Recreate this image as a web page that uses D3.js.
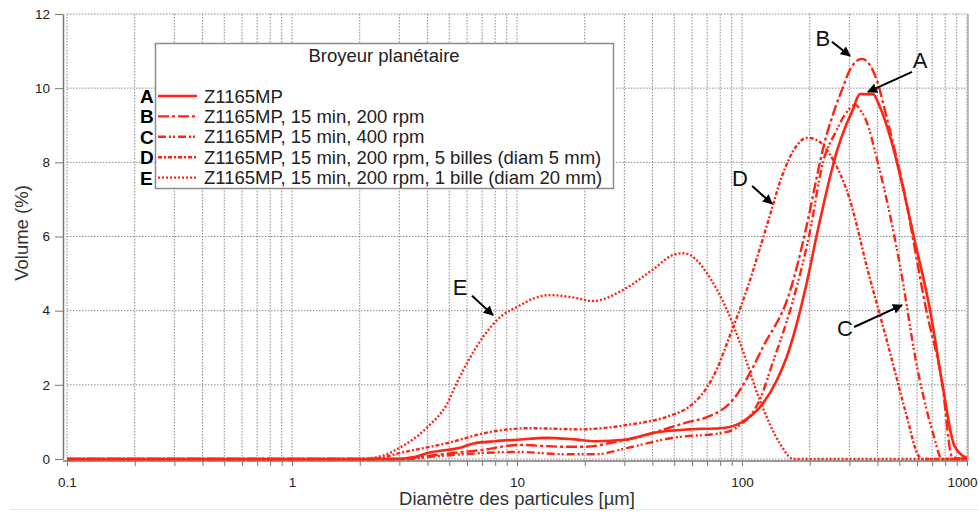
<!DOCTYPE html>
<html><head><meta charset="utf-8">
<script src="https://cdn.jsdelivr.net/npm/d3@7"></script>
<style>
html,body{margin:0;padding:0;background:#fff;}
svg{display:block;font-family:"Liberation Sans",Arial,sans-serif;}
</style></head>
<body><svg id="chart" width="978" height="512"></svg>
<script>
// ---------- data ----------
const sizesA = [0.1, 2.8, 3.5, 4, 5.7, 6.4, 8, 10, 13.5, 18, 22.5, 30, 42, 58, 80, 98, 124, 143, 158, 194, 216, 265, 290, 310, 334, 382, 410, 460, 520, 580, 686, 776, 880, 1000];
const volA   = [0, 0, 0.05, 0.16, 0.32, 0.42, 0.48, 0.52, 0.57, 0.53, 0.48, 0.52, 0.72, 0.8, 0.83, 0.97, 1.5, 2.13, 2.75, 4.75, 6.1, 8.33, 9.0, 9.4, 9.84, 9.84, 9.5, 8.6, 7.3, 6.0, 4.0, 2.05, 0.35, 0.03];

const sizesB = [0.1, 3.0, 4, 5, 6.9, 10.2, 16, 20, 26, 35, 48, 58, 70, 91, 108, 124, 163, 194, 215, 232, 254, 280, 302, 341, 375, 398, 440, 516, 660, 775, 860, 1000];
const volB   = [0, 0, 0.08, 0.15, 0.24, 0.38, 0.33, 0.33, 0.43, 0.6, 0.85, 1.0, 1.13, 1.59, 2.3, 3.02, 4.5, 6.3, 7.6, 8.5, 9.3, 10.0, 10.5, 10.79, 10.57, 10.2, 9.2, 7.44, 4.0, 2.05, 0.05, 0];

const sizesC = [0.1, 3.2, 4, 5, 6.9, 10.2, 16, 22.5, 31, 48, 86, 98, 110, 120, 137, 169, 200, 229, 260, 290, 318, 341, 352, 405, 505, 600, 706, 775, 1000];
const volC   = [0, 0, 0.05, 0.1, 0.16, 0.19, 0.13, 0.13, 0.3, 0.56, 0.73, 0.92, 1.2, 1.6, 2.6, 4.3, 6.1, 8.0, 8.8, 9.33, 9.55, 9.35, 9.2, 7.9, 5.18, 2.48, 0.7, 0, 0];

const sizesD = [0.1, 2.3, 3.0, 4.9, 7.6, 11.4, 19, 31, 49, 58, 70, 77, 88, 105, 132, 150, 175, 194, 215, 250, 302, 359, 440, 541, 600, 630, 1000];
const volD   = [0, 0, 0.16, 0.43, 0.73, 0.83, 0.8, 0.92, 1.19, 1.4, 1.94, 2.4, 3.3, 4.56, 6.5, 7.6, 8.45, 8.66, 8.6, 8.14, 6.98, 5.18, 3.2, 1.13, 0.16, 0, 0];

const sizesE = [0.1, 2.0, 2.5, 3.0, 4.0, 4.9, 5.4, 7.06, 8.5, 10, 12, 14, 18, 21.8, 29.6, 40, 49.3, 55, 62, 70, 86, 98, 120, 147, 169, 1000];
const volE   = [0, 0, 0.08, 0.3, 0.86, 1.5, 2.05, 3.29, 3.85, 4.1, 4.34, 4.42, 4.35, 4.26, 4.56, 5.1, 5.5, 5.55, 5.4, 5.0, 4.0, 3.13, 1.59, 0.43, 0, 0];

const seriesKeys   = ["A", "B", "C", "D", "E"];
const seriesLabels = ["Z1165MP", "Z1165MP, 15 min, 200 rpm", "Z1165MP, 15 min, 400 rpm",
                      "Z1165MP, 15 min, 200 rpm, 5 billes (diam 5 mm)", "Z1165MP, 15 min, 200 rpm, 1 bille (diam 20 mm)"];
const legendTitle  = "Broyeur planétaire";
const yTicks       = [0, 2, 4, 6, 8, 10, 12];
const xTickLabels  = ["0.1", "1", "10", "100", "1000"];
const xTitle       = "Diamètre des particules [µm]";
const yTitle       = "Volume (%)";
// annotations: letter position and arrow (data units: µm, %)
const annLetters = ["B", "A", "D", "C", "E"];
const annText    = [[229, 11.35], [618, 10.76], [98, 7.58], [287, 3.53], [5.58, 4.64]];
const annFrom    = [[251, 11.25], [570, 10.44], [111, 7.36], [315, 3.56], [6.31, 4.4]];
const annTo      = [[302, 10.87], [363, 9.9], [136, 6.88], [514, 4.15], [7.82, 3.88]];

// ---------- styles ----------
const RED = "#ff2414";
const FONT = "Liberation Sans, Arial, sans-serif";
const dashes = [null, "11,3,3,3", "8,3,2,2,2,3", "4,2,2,2", "2,2"];
const series = [
  [sizesA, volA], [sizesB, volB], [sizesC, volC], [sizesD, volD], [sizesE, volE]
].map((s, i) => ({key: seriesKeys[i], label: seriesLabels[i], dash: dashes[i],
  pts: s[0].map((d, j) => [d, s[1][j]])}));

const svg = d3.select("#chart");
const x = d3.scaleLog().domain([0.1, 1000]).range([67, 967]);
const y = d3.scaleLinear().domain([0, 12]).range([459, 14]);

// all minor/major tick values
const xAll = [];
for (let e = -1; e < 3; e++) for (let m = 1; m < 10; m++) xAll.push(+(m * Math.pow(10, e)).toPrecision(3));
xAll.push(1000);
const decades = [0.1, 1, 10, 100, 1000];

// grid
const grid = svg.append("g");
grid.selectAll("line.h").data(yTicks).join("line")
  .attr("x1", x(0.1)).attr("x2", x(1000)).attr("y1", d => y(d)).attr("y2", d => y(d))
  .attr("stroke", "#8a8a8a").attr("stroke-width", 1).attr("stroke-dasharray", "1.5,1.5");
grid.selectAll("line.v").data(xAll).join("line")
  .attr("x1", d => x(d)).attr("x2", d => x(d)).attr("y1", y(12)).attr("y2", y(0))
  .attr("stroke", "#8a8a8a").attr("stroke-width", 1).attr("stroke-dasharray", "1.5,1.5");

// right frame
svg.append("line").attr("x1", 968).attr("x2", 968).attr("y1", y(12)).attr("y2", 461)
  .attr("stroke", "#999").attr("stroke-width", 1.2);

// axes
const yAxis = svg.append("g").attr("transform", "translate(63,0)")
  .call(d3.axisLeft(y).tickValues(yTicks).tickSize(8).tickPadding(5).tickSizeOuter(0));
yAxis.select(".domain").attr("stroke", "#777").attr("stroke-width", 1.5);
yAxis.selectAll(".tick line").attr("stroke", "#777");
yAxis.selectAll(".tick text").attr("font-size", 13.5).attr("fill", "#222").attr("font-family", FONT);

const xAxis = svg.append("g").attr("transform", "translate(0,461)")
  .call(d3.axisBottom(x).tickValues(xAll).tickSize(5).tickPadding(11).tickSizeOuter(0)
    .tickFormat(d => { const i = decades.indexOf(d); return i >= 0 ? xTickLabels[i] : ""; }));
xAxis.select(".domain").attr("stroke", "#777").attr("stroke-width", 1.5).attr("d", "M63,0H968");
xAxis.selectAll(".tick line").attr("stroke", "#777");
xAxis.selectAll(".tick text").attr("font-size", 13.5).attr("fill", "#222").attr("font-family", FONT)
  .filter(d => d === 1000).attr("text-anchor", "end").attr("dx", 10);

// titles
svg.append("text").attr("x", 517).attr("y", 505).attr("text-anchor", "middle")
  .attr("font-size", 18.5).attr("fill", "#333").text(xTitle);
svg.append("text").attr("transform", "translate(28,233) rotate(-90)").attr("text-anchor", "middle")
  .attr("font-size", 18.5).attr("fill", "#333").text(yTitle);

// faint bottom separator
svg.append("line").attr("x1", 10).attr("x2", 978).attr("y1", 509.5).attr("y2", 509.5)
  .attr("stroke", "#e6e6e6").attr("stroke-width", 1);

// curves
const line = d3.line().x(d => x(d[0])).y(d => y(d[1])).curve(d3.curveMonotoneX);
svg.append("g").selectAll("path").data(series).join("path")
  .attr("d", d => line(d.pts)).attr("fill", "none").attr("stroke", RED)
  .attr("stroke-width", d => d.dash ? 2.4 : 2.6)
  .attr("stroke-dasharray", d => d.dash);

// legend
const lg = svg.append("g");
lg.append("rect").attr("x", 155.5).attr("y", 43.5).attr("width", 458).attr("height", 145)
  .attr("fill", "#fff").attr("stroke", "#8c8c8c").attr("stroke-width", 1.5);
lg.append("text").attr("x", 384).attr("y", 62).attr("text-anchor", "middle")
  .attr("font-size", 18.5).attr("fill", "#222").text(legendTitle);
const rows = lg.selectAll("g.row").data(series).join("g")
  .attr("transform", (d, i) => `translate(0,${96 + i * 20.4})`);
rows.append("line").attr("x1", 158).attr("x2", 197).attr("y1", 0).attr("y2", 0)
  .attr("stroke", RED).attr("stroke-width", 2.4).attr("stroke-dasharray", d => d.dash);
rows.append("text").attr("x", 204).attr("y", 6.5).attr("font-size", 18.5).attr("fill", "#222").text(d => d.label);
rows.append("text").attr("x", 140).attr("y", 7).attr("font-size", 19).attr("font-weight", "bold")
  .attr("fill", "#000").text(d => d.key);

// annotations
const defs = svg.append("defs");
defs.append("marker").attr("id", "arr").attr("viewBox", "0 0 10 10").attr("refX", 9).attr("refY", 5)
  .attr("markerWidth", 5).attr("markerHeight", 5).attr("orient", "auto")
  .append("path").attr("d", "M0,0L10,5L0,10z").attr("fill", "#000");
const ann = svg.append("g");
annLetters.forEach((L, i) => {
  ann.append("text").attr("x", x(annText[i][0])).attr("y", y(annText[i][1]) + 8)
    .attr("text-anchor", "middle").attr("font-size", 22).attr("fill", "#111").text(L);
  ann.append("line").attr("x1", x(annFrom[i][0])).attr("y1", y(annFrom[i][1]))
    .attr("x2", x(annTo[i][0])).attr("y2", y(annTo[i][1]))
    .attr("stroke", "#000").attr("stroke-width", 2).attr("marker-end", "url(#arr)");
});
</script></body></html>
